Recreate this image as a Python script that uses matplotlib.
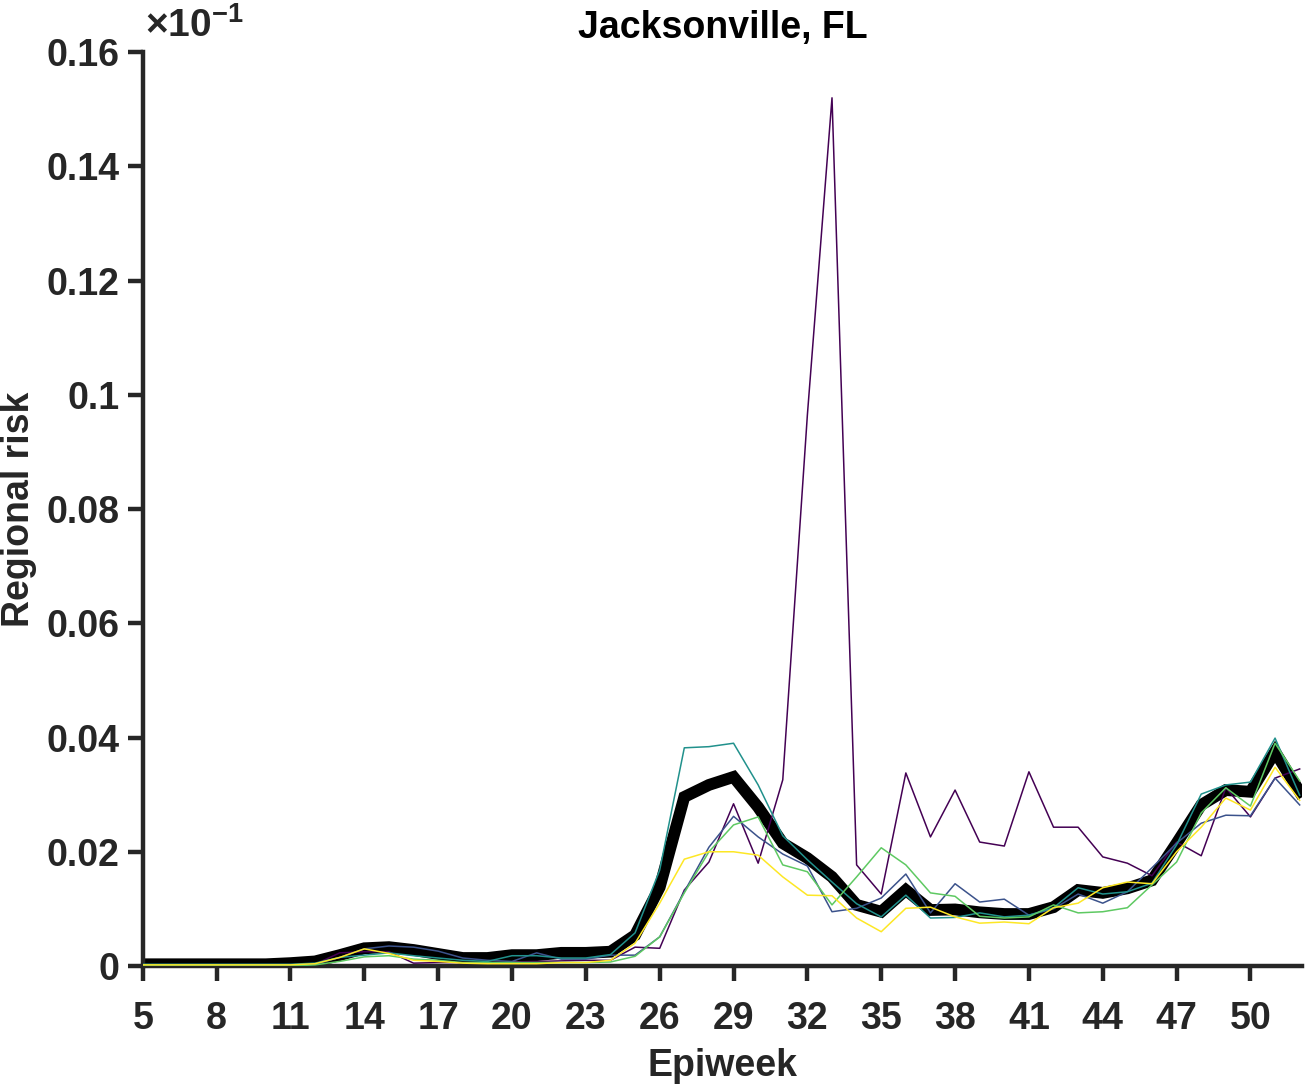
import numpy as np
import matplotlib
matplotlib.use("Agg")
import matplotlib.pyplot as plt

plt.rcParams['font.family'] = ['Liberation Sans', 'DejaVu Sans']
plt.rcParams['font.weight'] = 'bold'
plt.rcParams['mathtext.fontset'] = 'custom'
plt.rcParams['mathtext.rm'] = 'Liberation Sans'
plt.rcParams['mathtext.bf'] = 'Liberation Sans:bold'

# epiweeks 5..52
weeks = np.arange(5, 53)

# mean regional risk (thick black), in units of 1e-1
mean_risk = [0.0003, 0.0003, 0.0003, 0.0003, 0.0003, 0.0003, 0.0005, 0.0008,
             0.0019, 0.0031, 0.0033, 0.0028, 0.0021, 0.0014, 0.0014, 0.0019,
             0.0019, 0.0023, 0.0023, 0.0025, 0.0054, 0.0138, 0.0296, 0.0317,
             0.0331, 0.0278, 0.0215, 0.0189, 0.0156, 0.0107, 0.0095, 0.0133,
             0.0098, 0.0099, 0.0094, 0.0091, 0.0091, 0.0103, 0.0133, 0.0128,
             0.0136, 0.0150, 0.0215, 0.0282, 0.0308, 0.0305, 0.0375, 0.0305]

# individual runs (thin lines)
run_purple = [0.0000, 0.0000, 0.0000, 0.0000, 0.0000, 0.0000, 0.0001, 0.0003,
              0.0023, 0.0025, 0.0025, 0.0005, 0.0006, 0.0006, 0.0006, 0.0007,
              0.0008, 0.0009, 0.0010, 0.0010, 0.0033, 0.0031, 0.0133, 0.0182,
              0.0284, 0.0180, 0.0326, 0.0965, 0.1520, 0.0177, 0.0126, 0.0338,
              0.0226, 0.0308, 0.0217, 0.0210, 0.0340, 0.0243, 0.0243, 0.0191,
              0.0180, 0.0158, 0.0217, 0.0193, 0.0312, 0.0261, 0.0329, 0.0345]
run_blue = [0.0000, 0.0000, 0.0000, 0.0000, 0.0000, 0.0000, 0.0001, 0.0003,
            0.0015, 0.0030, 0.0035, 0.0033, 0.0026, 0.0014, 0.0010, 0.0008,
            0.0023, 0.0012, 0.0012, 0.0019, 0.0019, 0.0051, 0.0130, 0.0208,
            0.0262, 0.0226, 0.0196, 0.0175, 0.0095, 0.0101, 0.0119, 0.0161,
            0.0093, 0.0144, 0.0112, 0.0117, 0.0089, 0.0100, 0.0126, 0.0110,
            0.0130, 0.0172, 0.0215, 0.0250, 0.0264, 0.0263, 0.0329, 0.0282]
run_teal = [0.0003, 0.0003, 0.0003, 0.0003, 0.0003, 0.0003, 0.0003, 0.0005,
            0.0015, 0.0019, 0.0023, 0.0018, 0.0014, 0.0010, 0.0008, 0.0018,
            0.0018, 0.0014, 0.0014, 0.0020, 0.0058, 0.0168, 0.0382, 0.0384,
            0.0390, 0.0317, 0.0228, 0.0186, 0.0147, 0.0109, 0.0086, 0.0124,
            0.0084, 0.0085, 0.0093, 0.0086, 0.0089, 0.0102, 0.0137, 0.0126,
            0.0130, 0.0145, 0.0212, 0.0301, 0.0317, 0.0322, 0.0399, 0.0299]
run_green = [0.0000, 0.0000, 0.0000, 0.0000, 0.0000, 0.0000, 0.0000, 0.0002,
             0.0008, 0.0016, 0.0018, 0.0012, 0.0010, 0.0006, 0.0006, 0.0006,
             0.0006, 0.0006, 0.0006, 0.0007, 0.0017, 0.0051, 0.0128, 0.0200,
             0.0247, 0.0261, 0.0177, 0.0165, 0.0107, 0.0156, 0.0207, 0.0177,
             0.0128, 0.0122, 0.0087, 0.0084, 0.0086, 0.0107, 0.0093, 0.0095,
             0.0102, 0.0142, 0.0182, 0.0268, 0.0312, 0.0280, 0.0390, 0.0324]
run_yellow = [0.0002, 0.0002, 0.0002, 0.0002, 0.0002, 0.0002, 0.0002, 0.0004,
              0.0015, 0.0030, 0.0022, 0.0010, 0.0008, 0.0005, 0.0004, 0.0004,
              0.0004, 0.0006, 0.0006, 0.0010, 0.0040, 0.0110, 0.0187, 0.0200,
              0.0200, 0.0194, 0.0156, 0.0124, 0.0123, 0.0084, 0.0060, 0.0101,
              0.0103, 0.0086, 0.0075, 0.0077, 0.0074, 0.0102, 0.0110, 0.0137,
              0.0147, 0.0144, 0.0200, 0.0243, 0.0294, 0.0273, 0.0348, 0.0290]

runs = [run_purple, run_blue, run_teal, run_green, run_yellow]
run_colors = ['#440154', '#3b528b', '#21918c', '#5ec962', '#fde725']

xticks = np.arange(5, 51, 3)
yticks = [0, 0.02, 0.04, 0.06, 0.08, 0.1, 0.12, 0.14, 0.16]
ytick_labels = ['0', '0.02', '0.04', '0.06', '0.08', '0.1', '0.12', '0.14', '0.16']

axcol = '#262626'
fs = 27

fig = plt.figure(figsize=(13.1, 10.86), dpi=100)
ax = fig.add_axes([0.109, 0.1105, 0.885, 0.8415])

ax.plot(weeks, mean_risk, color='black', linewidth=8.5, solid_joinstyle='miter', zorder=2)
for r, c in zip(runs, run_colors):
    ax.plot(weeks, r, color=c, linewidth=1.1, zorder=3)

ax.set_xlim(5, 52.1)
ax.set_ylim(0, 0.16)
ax.set_xticks(xticks)
ax.set_yticks(yticks)
ax.set_yticklabels(ytick_labels)

for s in ['top', 'right']:
    ax.spines[s].set_visible(False)
for s in ['left', 'bottom']:
    ax.spines[s].set_linewidth(3.2)
    ax.spines[s].set_color(axcol)

ax.tick_params(direction='out', length=11, width=3.2, colors=axcol, labelsize=fs)
ax.tick_params(axis='x', pad=14)
ax.tick_params(axis='y', pad=6)
for lab in ax.get_xticklabels() + ax.get_yticklabels():
    lab.set_fontweight('bold')

ax.set_xlabel('Epiweek', fontsize=fs, fontweight='bold', color=axcol, labelpad=8)
ax.set_ylabel('Regional risk', fontsize=fs, fontweight='bold', color=axcol)
ax.yaxis.set_label_coords(-0.0915, 0.5)
ax.set_title('Jacksonville, FL', fontsize=fs, fontweight='bold', color='black', pad=10)

ax.text(0.002, 1.008, r'$\times\mathbf{10^{-1}}$', transform=ax.transAxes, fontsize=28,
        color=axcol, ha='left', va='bottom')

fig.savefig('out.png', dpi=100)
